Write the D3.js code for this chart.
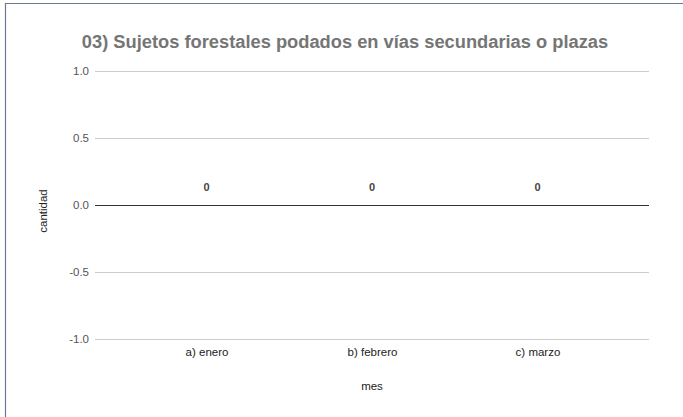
<!DOCTYPE html>
<html><head><meta charset="utf-8">
<script src="https://cdn.jsdelivr.net/npm/d3@7/dist/d3.min.js"></script>
<style>body{margin:0;background:#fff;}svg{display:block;font-family:"Liberation Sans",Arial,sans-serif;}</style>
</head><body>
<script>
const categories = ["a) enero", "b) febrero", "c) marzo"];
const values = [0, 0, 0];
const yTicks = [-1.0, -0.5, 0.0, 0.5, 1.0];
const title = "03) Sujetos forestales podados en vías secundarias o plazas";
const xTitle = "mes";
const yTitle = "cantidad";

(function () {
const W = 683, H = 417;
const svg = d3.select("body").append("svg").attr("width", W).attr("height", H);
svg.append("rect").attr("width", W).attr("height", H).attr("fill", "#fff");
// frame
svg.append("path").attr("d", `M5.5,${H} V3.5 H${W}`).attr("fill", "none").attr("stroke", "#6b7a90").attr("stroke-width", 1.2);

const pL = 95, pR = 649, pT = 71, pB = 338.5;
const x = d3.scalePoint().domain(categories).range([pL, pR]).padding(0.674);
const y = d3.scaleLinear().domain([-1, 1]).range([pB, pT]);

// grid
svg.append("g").selectAll("line").data(yTicks.filter(d => d !== 0)).join("line")
  .attr("x1", pL).attr("x2", pR)
  .attr("y1", d => Math.round(y(d)) + 0.5).attr("y2", d => Math.round(y(d)) + 0.5)
  .attr("stroke", "#cccccc").attr("stroke-width", 1);

// y axis labels
const fmt = d => d3.format(".1f")(d).replace("\u2212", "-");
const yAxis = d3.axisLeft(y).tickValues(yTicks).tickFormat(fmt).tickSize(0).tickPadding(6);
const ya = svg.append("g").attr("transform", `translate(${pL},0)`).call(yAxis);
ya.select(".domain").remove();
ya.selectAll("text").attr("font-size", 11.5).attr("fill", "#555").attr("font-family", "'Liberation Sans',Arial,sans-serif");

// zero line
svg.append("line").attr("x1", pL).attr("x2", pR)
  .attr("y1", Math.round(y(0)) + 0.5).attr("y2", Math.round(y(0)) + 0.5)
  .attr("stroke", "#333").attr("stroke-width", 1);

// x axis labels
const xAxis = d3.axisBottom(x).tickSize(0).tickPadding(9);
const xa = svg.append("g").attr("transform", `translate(0,${pB})`).call(xAxis);
xa.select(".domain").remove();
xa.selectAll("text").attr("font-size", 11.5).attr("fill", "#222").attr("font-family", "'Liberation Sans',Arial,sans-serif");

// data labels
svg.append("g").selectAll("text").data(values).join("text")
  .attr("x", (d, i) => x(categories[i]))
  .attr("y", d => y(d) - 14)
  .attr("text-anchor", "middle").attr("font-size", 11).attr("font-weight", "bold").attr("fill", "#444")
  .text(d => d);

// titles
svg.append("text").attr("x", 345).attr("y", 48).attr("text-anchor", "middle")
  .attr("font-size", 18.3).attr("font-weight", "bold").attr("fill", "#757575").text(title);
svg.append("text").attr("x", 372).attr("y", 390).attr("text-anchor", "middle")
  .attr("font-size", 11.5).attr("fill", "#222").text(xTitle);
svg.append("text").attr("transform", `translate(47,211) rotate(-90)`).attr("text-anchor", "middle")
  .attr("font-size", 11.5).attr("fill", "#222").text(yTitle);
})();
</script>
</body></html>
